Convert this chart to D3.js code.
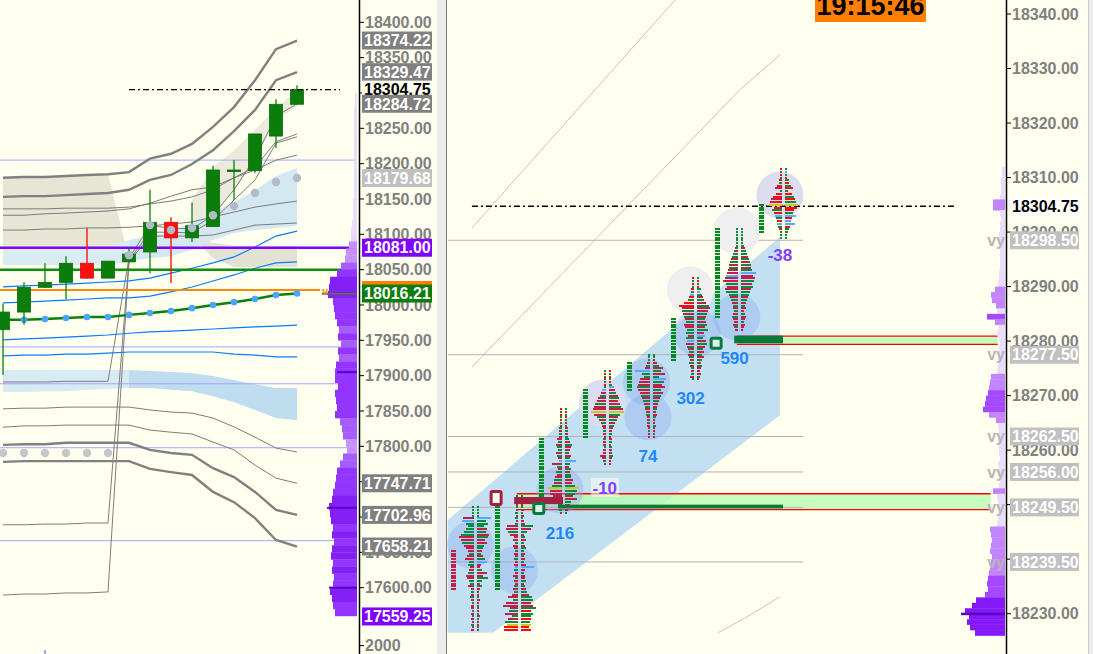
<!DOCTYPE html>
<html><head><meta charset="utf-8">
<script src="https://cdn.jsdelivr.net/npm/d3@7"></script>
<style>
body{margin:0;background:#ffffef;overflow:hidden}
svg{display:block;font-family:"Liberation Sans",Arial,sans-serif}
</style></head>
<body><svg id="c" width="1093" height="654"></svg>
<script>
// ================= DATA =================
const candleOpen  = [17965,17990,18025,18032,18059,18038,18061,18075,18117,18095,18111,18190,18190,18239,18284];
const candleClose = [17990,18025,18032,18059,18038,18062,18072,18117,18095,18112,18191,18191,18242,18284,18304.75];
const candleHigh  = [18002,18032,18059,18069,18109,18062,18081,18163,18124,18145,18197,18205,18242,18291,18311];
const candleLow   = [17901,17972,18024,18008,18037,18038,18061,18045,18031,18089,18111,18149,18187,18222,18284];

const bandU1 = [18180,18181,18181,18182.5,18184,18185,18188,18207,18214,18228,18252,18280,18318,18362,18374.22];
const bandU2 = [18153,18154,18154,18155.5,18157,18158.5,18163,18177,18184,18199.5,18219,18246,18276,18318,18329.47];
const thinA  = [18136,18136,18136,18137,18137,18137,18138.5,18143,18147,18153,18163,18180,18195,18231,18242];
const thinB  = [18127,18127,18129,18130,18131.5,18133,18136,18144,18154,18163,18167,18180,18191,18205,18212];
const thinC  = [17891,17891,17891,17892,17892,17892,18066.5,18112,18109,18107.5,18127,18163,18208,18267,18284.72];
const thinD  = [17689,17689,17690,17690,17691.5,17691.5,18063.5,18103,18103,18102,18120,18148.5,18177,18229,18238];
const thinE  = [17589.5,17591,17591,17592.5,17592.5,17594,18061,18097.5,18097.5,18097.5,18099,18106,18113,18114.5,18116];
const thinF  = [18106,18106,18107.5,18107.5,18109,18109,18110,18112,18114.5,18117.5,18124.5,18131.5,18138.5,18143,18147];
const bandL1 = [17802,17803,17803,17805,17805,17805,17805,17795,17790.5,17788,17769,17756.5,17735.5,17710,17702.96];
const bandL2 = [17778,17779,17779,17779,17779,17779,17779,17768,17763.5,17759.5,17735.5,17721,17698.5,17667.5,17658.21];
const thinL3 = [17853,17854,17854,17855.5,17855.5,17855.5,17855.5,17851.5,17848.5,17847,17840,17827.5,17813,17797.5,17792];
const thinL4 = [17827,17829,17829,17830,17830,17830,17830,17823,17820,17817.5,17806,17795,17773.5,17755,17747.71];
const blue1  = [18025.5,18027,18028,18029.5,18031,18032.5,18034,18038,18045,18052,18059.5,18068,18082,18097.5,18104.5];
const blue2  = [18003,18004,18005.5,18007,18008.5,18010,18010,18012.5,18018.5,18025.5,18034,18042.5,18052,18059.5,18061];
const blue3  = [17950.5,17952,17953,17954.5,17956,17957.5,17960,17962,17963,17964.5,17966,17967.5,17969,17970,17971.5];
const blue4  = [17928,17929,17929,17930.5,17930.5,17932,17933.5,17933.5,17933.5,17933.5,17933.5,17930.5,17929,17926.5,17926.5];
const vwap   = [17979,17979,17980,17981.5,17983,17983,17986,17988.5,17991.5,17995.5,18000,18004,18008.5,18014,18016.21];
const grayDots = [17790.5,17790.5,17790.5,17790.5,17790.5,17790.5,18070.5,18113,18106,18109,18127,18140,18158.5,18174,18179.68];
const upBandTop = [18080.5,18080.5,18080.5,18080.5,18080.5,18080.5,18092,18097.5,18103,18117.5,18131.5,18145.5,18162.5,18182.5,18194];
const upBandBot = [18056.5,18056.5,18056.5,18056.5,18056.5,18056.5,18061,18066.5,18069,18078,18092,18102,18106,18109,18112];
const lowBandTop = [17908,17908,17908,17908,17908,17908,17908,17906.5,17905,17903.5,17899.5,17894,17888,17882.5,17882.5];
const lowBandBot = [17877,17877,17878,17878,17880,17881,17882.5,17882.5,17880,17878,17871,17862.5,17851.5,17840,17837];
const beigeAx = [0,1,2,3,4,5,6,5,0];
const beigeAp = [18180,18181,18181,18182.5,18184,18185,18066,18080.5,18080.5];
const beigeBx = [9.2,11,14,14,11,10];
const beigeBp = [18092,18083.5,18083.5,18053.8,18053.8,18066];
const beigeCidx = [9,10,11,12,13,14];
const beigeCtop = [18148.5,18195,18219,18247.5,18278.5,18304];
const beigeCbot = [18099,18124.5,18162.5,18205,18262,18280];
const levelLinesL = [18205,17940.7,17888.5,17798,17666.5];
const purpleLevel = 18081.00, greenLevel = 18050, orangeLevel = 18021.2;
const lastPrice = 18304.75;

const leftProfStart = 18100;
const leftProfW = [6,8,11,12,16,20,27,28,29,24,23,22,20,18,19,16,19,18,21,22,22,19,22,21,20,22,17,15,14,11,10,14,17,20,21,22,24,25,28,27,26,24,25,23,25,26,24,25,23,24,27,25,24,22];
const leftProfTopStart = 18300;
const leftProfTopW = [2,2,3,3,3,3,3,3,3,3,3,3,3,3,3,4,4,4,5,6];
const leftProfDark = [[18016,32],[17713,30],[17600,28],[17905,20]];

const leftTickVals = [18400,18350,18300,18250,18200,18150,18100,18050,18000,17950,17900,17850,17800,17750,17700,17650,17600];
const leftTickBottomText = "2000", leftTickBottomVal = 17518;
const leftLabelVals = [18374.22,18329.47,18304.75,18284.72,18179.68,18081.00,18021.2,18016.21,17747.71,17702.96,17658.21,17559.25];
const leftLabelKind = ['band','band','last','band','dots','poc','orange','vwap','band','band','band','low'];

const fpTop = [18249.5,18251.5,18267.5,18274.5,18277.5,18291.5,18300.5,18311.5];
const fpBidW = [
 ["2222","bc868","adfdca8","6579564","56875463","334323323232323"],
 ["22222","23232","3bca8","45354","34343","43435","34345","46a5c","f89d6","adbee"],
 ["2222222","3333","5465","4654","3a54","6578","8aec","c9a6","4432"],
 ["22222","22456","89bcd","fc975","43332","33323","36432"],
 ["22234","5f86a","bcdca","98765","54433","33222","2"],
 ["22223","3456a","fccba","98a97","86878","76565","45433","342"],
 ["22222","22345","67899","abcdf","cbdc9","87655","45654","543"],
 ["22223","35726","9bcd8","a8765","54322","2"]];
const fpAskW = [
 ["2222","e9b7a","9cb8a76","5468a43","5a6b5353","222322222322222"],
 ["22222","32323","4ca63","45345","34343","5d434","45345","68bca","cfaca","a9a8a"],
 ["2222222","3333","4576","5465","b546","5668","7aec","a8c6","5432"],
 ["22222","35679","a9bce","fb986","54332","33233","34322"],
 ["22246","a8c6d","b9c8a","87654","43432","23222","2"],
 ["22224","35679","cdba9","89a8b","7869a","86757","54543","432"],
 ["22222","23456","789aa","bfced","bca98","76545","34543","432"],
 ["22224","46837","9abdc","98b76","a5432","2"]];
const fpBidC = [
 ["gggg","rbggg","ggrrgrr","rgrrggr","rgrrggrr","grgrgrrgrgrrgrr"],
 ["grgrg","rgrgr","grrgr","rrgrr","grrgr","rbgrr","grrgr","grrgr","rrgrg","rgyRR"],
 ["RgRgRgR","grgr","rgrg","grgr","brgr","grrg","rgyr","rrgg","grgr"],
 ["gRgRg","Rgbrg","rrgrr","yrgrg","rrgrr","grrgr","rrrgr"],
 ["gggrg","rbggr","rrgrr","grgrg","rrgrr","grrgr","r"],
 ["RgRgR","gbRgR","Rrgrg","rgrrg","grgbr","grgrg","rgrgr","grg"],
 ["ggggg","gggrg","grgrg","rrbrr","grrgg","rgrgr","grgrr","rgr"],
 ["RgRgR","gRrgR","RrRyR","gRbgR","bgRgg","g"]];
const fpAskC = [
 ["gggg","bgggr","grgrrgg","rgrgbrr","grrggrgr","rrgrrgrrgrgrrgr"],
 ["grgRg","rgrgr","rgrgr","grgrg","grgrg","rbrgr","rgrgr","grggr","rgRgg","RgyRR"],
 ["gRgRgRg","rgrg","grgr","rgrg","bgrg","rggr","rgyg","grrg","rgrg"],
 ["RgRgR","gbrgr","grrgr","ygrgr","grrgr","rgrgr","rgrrr"],
 ["ggrrg","rgrgb","grrgr","grgrr","grrgr","rgrrg","r"],
 ["gRgRg","bgrgr","grrgr","grgrg","rbgrg","rgrgr","grgrr","rgr"],
 ["ggggg","ggrgg","rgrgr","gbrrg","rgrgg","rgrgr","rgrrg","rrr"],
 ["gbgRg","RgRgR","gRgyR","RgbRb","bRggg","g"]];
const colHi = [18241.5,18250.5,18262,18271,18276,18284,18300.5,18305];
const colLo = [18234.5,18234.5,18250.5,18262.5,18271,18276.5,18284.5,18300];
const colColor = ['r','g','g','g','g','g','g','g'];
const deltaIdx   = [1.93,2.95,3.93,4.9,5.9,6.93];
const deltaPrice = [18244.8,18253.1,18258.9,18269.6,18276.9,18295.8];
const deltaVal   = [216,-10,74,302,590,-38];

const circIdx   = [6.93,5.95,4.89,5.95,5.05,3.9,3.93,2.9,1.93,0.9,-0.1];
const circPrice = [18306.8,18300.2,18289.4,18284.4,18281.5,18272.5,18266.1,18268.6,18252.7,18238,18242.6];
const circKind  = ['l','w','w','b','b','b','b','l','b','b','b'];

const chanIdx   = [-0.62,6.93,6.93,0.41,-0.62];
const chanPrice = [18247.2,18299.1,18266.4,18226.5,18226.5];
const diagIdx   = [[-0.07,4.55],[-0.07,6.02,6.93],[5.52,6.2,6.93]];
const diagPrice = [[18300.75,18342.6],[18275.25,18326.1,18332.5],[18226.5,18229.5,18233.1]];
const vyLevels = [18298.5,18277.5,18262.5,18256.0,18249.5,18239.5];
const zoneIdx0 = [5.95,0.95], zoneIdx1 = [11.88,11.72];
const zoneHi = [18280.9,18252.0], zoneLo = [18279.4,18249.1];
const barIdx0 = [0.89,1.89,5.89], barIdx1 = [2.0,7.0,7.0];
const barHi = [18251.4,18250.0,18281.0], barLo = [18250.1,18249.3,18279.6];
const barKind = ['r','g','g'];
const markIdx = [0.48,1.45,5.48], markPrice = [18251.2,18249.3,18279.6], markKind = ['r','g','g'];

const rightProfStart = 18312;
const rightProfW = [3,3,4,4,4,5,12,12,5,4,5,5,6,6,6,5,5,5,5,6,6,7,10,14,13,9,8,18,10,6,8,6,5,6,6,7,7,8,14,15,16,17,19,20,22,16,9,7,6,6,7,6,6,5,7,6,5,5,6,12,8,7,6,6,7,8,15,14,13,14,15,13,14,15,16,17,18,17,20,29,33,40,36,38,35,30];
const rightProfDark = [[18230,44]];

const rightTickVals = [18340,18330,18320,18310,18300,18290,18280,18270,18260,18250,18240,18230];
const rightLabelVals = [18304.75,18298.50,18277.50,18262.50,18256.00,18249.50,18239.50];
const rightLabelKind = ['last','vy','vy','vy','vy','vy','vy'];
const clockText = "19:15:46";

// ================= DRAW =================
const W = 1093, H = 654, BG = '#ffffef';
const svg = d3.select('#c');
svg.append('rect').attr('width', W).attr('height', H).attr('fill', BG);
const defs = svg.append('defs');
defs.append('clipPath').attr('id','clipL').append('rect').attr('x',0).attr('y',0).attr('width',357).attr('height',H);
defs.append('clipPath').attr('id','clipR').append('rect').attr('x',447).attr('y',0).attr('width',559).attr('height',H);
const fmt = d3.format('.2f');

const xL = d3.scaleLinear().domain([0,14]).range([3,297]);
const yL = d3.scaleLinear().domain([18400,17550]).range([22.3,623]);
const gL = svg.append('g').attr('clip-path','url(#clipL)');
const idx = d3.range(15);
const lineL = arr => d3.line().x((d,i)=>xL(i)).y(d=>yL(d))(arr);
const poly = (xs, ps, xs_, ys_) => 'M' + xs.map((x,i)=>[xs_(x), ys_(ps[i])].join(',')).join('L') + 'Z';

gL.append('path').attr('d', poly(beigeAx, beigeAp, xL, yL)).attr('fill','#e7e6d4');
gL.append('path').attr('d', poly(beigeBx, beigeBp, xL, yL)).attr('fill','#e3e2d2');
gL.append('path').attr('d', d3.area().x((d,i)=>xL(beigeCidx[i])).y0((d,i)=>yL(beigeCbot[i])).y1(d=>yL(d))(beigeCtop))
  .attr('fill','#ebeadb');
const bandArea = (top, bot, from, to) => d3.area().x(i=>xL(i)).y0(i=>yL(bot[i])).y1(i=>yL(top[i]))(d3.range(from, to+1));
gL.append('path').attr('d', bandArea(upBandTop, upBandBot, 0, 6)).attr('fill','#d9ecf2');
gL.append('path').attr('d', bandArea(upBandTop, upBandBot, 6, 14)).attr('fill','#d3e8f1');
gL.append('path').attr('d', bandArea(lowBandTop, lowBandBot, 0, 6)).attr('fill','#d7ebf3');
gL.append('path').attr('d', bandArea(lowBandTop, lowBandBot, 6, 14)).attr('fill','#c0dcef');

levelLinesL.forEach(p => gL.append('line').attr('x1',0).attr('x2',357).attr('y1',yL(p)).attr('y2',yL(p))
  .attr('stroke','#a4a4ff').attr('stroke-width',1));
[thinA, thinB, thinC, thinD, thinE, thinF, thinL3, thinL4].forEach(a =>
  gL.append('path').attr('d', lineL(a)).attr('fill','none').attr('stroke','#7c7c7c').attr('stroke-width',1));
[bandU1, bandU2, bandL1, bandL2].forEach(a =>
  gL.append('path').attr('d', lineL(a)).attr('fill','none').attr('stroke','#808080').attr('stroke-width',2.4));
[blue1, blue2, blue3, blue4].forEach(a =>
  gL.append('path').attr('d', lineL(a)).attr('fill','none').attr('stroke','#0a7cff').attr('stroke-width',1.2));

gL.append('line').attr('x1',0).attr('x2',357).attr('y1',yL(purpleLevel)).attr('y2',yL(purpleLevel)).attr('stroke','#8000ff').attr('stroke-width',2.5);
gL.append('line').attr('x1',0).attr('x2',357).attr('y1',yL(greenLevel)).attr('y2',yL(greenLevel)).attr('stroke','#0a920a').attr('stroke-width',2.5);
gL.append('line').attr('x1',0).attr('x2',320).attr('y1',yL(orangeLevel)).attr('y2',yL(orangeLevel)).attr('stroke','#ff8a00').attr('stroke-width',2);

gL.append('path').attr('d', lineL(vwap)).attr('fill','none').attr('stroke','#0a820a').attr('stroke-width',2.5);
gL.selectAll('.vd').data(vwap).enter().append('circle').attr('cx',(d,i)=>xL(i)).attr('cy',d=>yL(d)).attr('r',3.3).attr('fill','#4aa6ff');

idx.forEach(i => {
  const up = candleClose[i] >= candleOpen[i];
  const col = up ? '#0a7d0a' : '#ff1010';
  gL.append('line').attr('x1',xL(i)).attr('x2',xL(i)).attr('y1',yL(candleHigh[i])).attr('y2',yL(candleLow[i]))
    .attr('stroke', up ? '#0a820a' : '#ff0000').attr('stroke-width',1.3);
  const y0 = yL(Math.max(candleOpen[i], candleClose[i])), y1 = yL(Math.min(candleOpen[i], candleClose[i]));
  gL.append('rect').attr('x', xL(i)-6.5).attr('y', y0).attr('width',13).attr('height', Math.max(1.6, y1-y0))
    .attr('fill', col).attr('stroke', up ? '#0d6a0d' : '#d01010').attr('stroke-width',0.8);
});
gL.selectAll('.gd').data(grayDots).enter().append('circle').attr('cx',(d,i)=>xL(i)).attr('cy',d=>yL(d))
  .attr('r',4.2).attr('fill',(d,i)=> i<6 ? '#c6c6c6' : '#b3bbcb');
gL.append('line').attr('x1',xL(6)).attr('x2',xL(16.05)).attr('y1',yL(lastPrice)).attr('y2',yL(lastPrice))
  .attr('stroke','#000').attr('stroke-width',1.3).attr('stroke-dasharray','6,3,2,3');

const profColL = w => w < 8 ? '#e4d6ff' : w < 13 ? '#c590ff' : w < 19 ? '#a75cff' : w < 25 ? '#9335ff' : '#8420f6';
const bucketH = yL(0) - yL(10);
gL.selectAll('.lpt').data(leftProfTopW).enter().append('rect')
  .attr('x', d=>357-d).attr('y',(d,i)=>yL(leftProfTopStart-10*i)).attr('width',d=>d).attr('height',bucketH+0.3).attr('fill','#e8dcff');
gL.selectAll('.lp').data(leftProfW).enter().append('rect')
  .attr('x', d=>357-d).attr('y',(d,i)=>yL(leftProfStart-10*i)).attr('width',d=>d).attr('height',bucketH+0.3).attr('fill',profColL);
leftProfDark.forEach(([p,w]) => gL.append('rect').attr('x',357-w).attr('y',yL(p)-1).attr('width',w).attr('height',2).attr('fill','#5a00c8'));
gL.append('line').attr('x1',322).attr('x2',357).attr('y1',yL(18016)).attr('y2',yL(18016)).attr('stroke','#5f7055').attr('stroke-width',2);
gL.append('text').attr('x',322).attr('y',yL(orangeLevel)+5).attr('font-size',11).attr('font-weight','bold').attr('fill','#ff8a00').text('v');

svg.append('line').attr('x1',359.5).attr('x2',359.5).attr('y1',0).attr('y2',H).attr('stroke','#000').attr('stroke-width',1.5);
const coveredL = v => leftLabelVals.some(l => Math.abs(yL(l) - yL(v)) < 4.5);
leftTickVals.forEach(v => {
  svg.append('line').attr('x1',359).attr('x2',364).attr('y1',yL(v)).attr('y2',yL(v)).attr('stroke','#000');
  if (!coveredL(v))
    svg.append('text').attr('x',365).attr('y',yL(v)).attr('dy','0.36em').attr('font-size',16).attr('font-weight','bold')
      .attr('fill','#808080').text(fmt(v));
});
svg.append('line').attr('x1',359).attr('x2',364).attr('y1',yL(leftTickBottomVal)).attr('y2',yL(leftTickBottomVal)).attr('stroke','#000');
svg.append('text').attr('x',365).attr('y',yL(leftTickBottomVal)).attr('dy','0.36em').attr('font-size',16).attr('font-weight','bold')
  .attr('fill','#808080').text(leftTickBottomText);
svg.append('line').attr('x1',xL(2)).attr('x2',xL(2)).attr('y1',650).attr('y2',654).attr('stroke','#3060c0');

const labelStyle = {
  band:{bg:'#808080',fg:'#ffffff'}, last:{bg:BG,fg:'#000000'}, dots:{bg:'#c0c0c0',fg:'#ffffff'},
  poc:{bg:'#8000ff',fg:'#ffffff'}, orange:{bg:'#ff8000',fg:null}, vwap:{bg:'#0a7d0a',fg:'#ffffff'},
  low:{bg:'#8000ff',fg:'#ffffff'}, vy:{bg:'#c0c0c0',fg:'#ffffff'}, lastR:{bg:'#ffffff',fg:'#000000'}
};
leftLabelVals.forEach((v,i) => {
  const s = labelStyle[leftLabelKind[i]];
  svg.append('rect').attr('x',362).attr('y',yL(v)-9).attr('width',70).attr('height',18).attr('fill',s.bg);
  if (s.fg) svg.append('text').attr('x',364).attr('y',yL(v)).attr('dy','0.36em').attr('font-size',16).attr('font-weight','bold')
    .attr('fill',s.fg).text(fmt(v));
});

svg.append('rect').attr('x',437).attr('y',0).attr('width',9).attr('height',H).attr('fill','#ececec');
svg.append('line').attr('x1',446.5).attr('x2',446.5).attr('y1',0).attr('y2',H).attr('stroke','#7a7a7a').attr('stroke-width',1);

const xR = d3.scaleLinear().domain([0,7]).range([475,783]);
const yR = d3.scaleLinear().domain([18340,18230]).range([14,613.7]);
const gR = svg.append('g').attr('clip-path','url(#clipR)');

diagIdx.forEach((xs,k) => gR.append('path').attr('d', d3.line()(xs.map((x,i)=>[xR(x), yR(diagPrice[k][i])])))
  .attr('fill','none').attr('stroke','#c4c4c4').attr('stroke-width',1));
gR.append('path').attr('d', poly(chanIdx, chanPrice, xR, yR)).attr('fill','#c2e0f1');
zoneHi.forEach((p,i) => {
  const x0 = xR(zoneIdx0[i]), x1 = xR(zoneIdx1[i]);
  gR.append('rect').attr('x',x0).attr('y',yR(p)).attr('width',x1-x0).attr('height',yR(zoneLo[i])-yR(p))
    .attr('fill','#b8fbb0').attr('opacity',0.8);
  [p, zoneLo[i]].forEach(q => gR.append('line').attr('x1',x0).attr('x2',x1).attr('y1',yR(q)).attr('y2',yR(q))
    .attr('stroke','#ff0000').attr('stroke-width',1.3));
});
vyLevels.forEach(p => gR.append('line').attr('x1',448).attr('x2',803).attr('y1',yR(p)).attr('y2',yR(p))
  .attr('stroke','#b2b2ba').attr('stroke-width',1));
const circFill = {w:'#efefef', l:'#dcdcf0', b:'rgba(140,170,240,0.38)'};
circIdx.forEach((x,i) => gR.append('circle').attr('cx',xR(x)).attr('cy',yR(circPrice[i])).attr('r',23.5).attr('fill',circFill[circKind[i]]));
gR.append('line').attr('x1',xR(-0.07)).attr('x2',xR(10.9)).attr('y1',yR(lastPrice)).attr('y2',yR(lastPrice))
  .attr('stroke','#000').attr('stroke-width',1.4).attr('stroke-dasharray','6,3,2,3');

const fpCol = {g:'#0a8a3c', r:'#c21e46', R:'#ff0a0a', b:'#55aaff', y:'#c6cc1e'};
const gF = gR.append('g').attr('shape-rendering','crispEdges');
fpTop.forEach((top,i) => {
  const cx = xR(i);
  const bw = fpBidW[i].join('').split('').map(c=>parseInt(c,36));
  const aw = fpAskW[i].join('').split('').map(c=>parseInt(c,36));
  const bc = fpBidC[i].join(''), ac = fpAskC[i].join('');
  bw.forEach((w,k) => {
    const y = Math.round(yR(top - 0.5*k)) - 1;
    gF.append('rect').attr('x',Math.round(cx-1.5-w)).attr('y',y).attr('width',w).attr('height',2).attr('fill',fpCol[bc[k]]||fpCol.g);
    const w2 = aw[k] || 2;
    gF.append('rect').attr('x',Math.round(cx+1.5)).attr('y',y).attr('width',w2).attr('height',2).attr('fill',fpCol[ac[k]]||fpCol.g);
  });
  const colX = Math.round(xR(i - 0.5));
  for (let p = colHi[i]; p >= colLo[i]; p -= 0.5) {
    gF.append('rect').attr('x',colX-2.5).attr('y',Math.round(yR(p))-1).attr('width',5).attr('height',2)
      .attr('fill', colColor[i]==='g' ? '#008a1e' : '#c21e46');
  }
});
const barCol = {r:'#a31f44', g:'#077a3c'};
barHi.forEach((p,i) => gR.append('rect').attr('x',xR(barIdx0[i])).attr('y',yR(p)).attr('width',xR(barIdx1[i])-xR(barIdx0[i]))
  .attr('height',yR(barLo[i])-yR(p)).attr('fill',barCol[barKind[i]]));
markIdx.forEach((x,i) => {
  const w = 10, h = markKind[i]==='r' ? 13 : 10;
  gR.append('rect').attr('x',xR(x)-w/2).attr('y',yR(markPrice[i])-h/2).attr('width',w).attr('height',h)
    .attr('fill', markKind[i]==='r' ? '#ffffef' : '#d8f0e8').attr('stroke',barCol[markKind[i]]).attr('stroke-width',3).attr('rx',1.5);
});
deltaVal.forEach((v,k) => {
  const yy = yR(deltaPrice[k]), xx = xR(deltaIdx[k]);
  if (v === -10) gR.append('rect').attr('x',xx-14).attr('y',yy-10).attr('width',28).attr('height',19).attr('fill','rgba(255,255,240,0.55)');
  gR.append('text').attr('x',xx).attr('y',yy).attr('dy','0.36em').attr('text-anchor','middle').attr('font-size',17)
    .attr('font-weight','bold').attr('fill', v < 0 ? '#8040ff' : '#1e88ff').text(v);
});

const profColR = w => w < 9 ? '#eadcff' : w < 17 ? '#c285ff' : w < 23 ? '#a548ff' : '#8418fa';
const bH = yR(0) - yR(1);
svg.selectAll('.rp').data(rightProfW).enter().append('rect')
  .attr('x', d=>1005-d).attr('y',(d,i)=>yR(rightProfStart-i)).attr('width',d=>d).attr('height',bH+0.3).attr('fill',profColR);
rightProfDark.forEach(([p,w]) => svg.append('rect').attr('x',1005-w).attr('y',yR(p)-1).attr('width',w).attr('height',2.5).attr('fill','#5a00c0'));
rightLabelVals.forEach((v,i) => { if (rightLabelKind[i]==='vy')
  svg.append('text').attr('x',1005).attr('y',yR(v)).attr('dy','0.36em').attr('text-anchor','end').attr('font-size',16)
    .attr('font-weight','bold').attr('fill','#b6b6b6').text('vy'); });

svg.append('line').attr('x1',1006.5).attr('x2',1006.5).attr('y1',0).attr('y2',H).attr('stroke','#000').attr('stroke-width',1.5);
const coveredR = v => rightLabelVals.some(l => Math.abs(yR(l) - yR(v)) < 4.5);
rightTickVals.forEach(v => {
  svg.append('line').attr('x1',1006).attr('x2',1011).attr('y1',yR(v)).attr('y2',yR(v)).attr('stroke','#000');
  if (!coveredR(v))
    svg.append('text').attr('x',1012).attr('y',yR(v)).attr('dy','0.36em').attr('font-size',16).attr('font-weight','bold')
      .attr('fill','#808080').text(fmt(v));
});
rightLabelVals.forEach((v,i) => {
  const s = rightLabelKind[i]==='last' ? labelStyle.lastR : labelStyle.vy;
  svg.append('rect').attr('x',1010).attr('y',yR(v)-9).attr('width',69).attr('height',18).attr('fill',s.bg);
  svg.append('text').attr('x',1012).attr('y',yR(v)).attr('dy','0.36em').attr('font-size',16).attr('font-weight','bold')
    .attr('fill',s.fg).text(fmt(v));
});
svg.append('rect').attr('x',1088).attr('y',0).attr('width',5).attr('height',H).attr('fill','#ececec');
svg.append('line').attr('x1',1088.5).attr('x2',1088.5).attr('y1',0).attr('y2',H).attr('stroke','#c8c8c8');

svg.append('rect').attr('x',815).attr('y',-1).attr('width',111).attr('height',23).attr('fill','#ff8000');
svg.append('text').attr('x',870.5).attr('y',15).attr('text-anchor','middle').attr('font-size',27).attr('font-weight','bold')
  .attr('fill','#000').text(clockText);
</script></body></html>
